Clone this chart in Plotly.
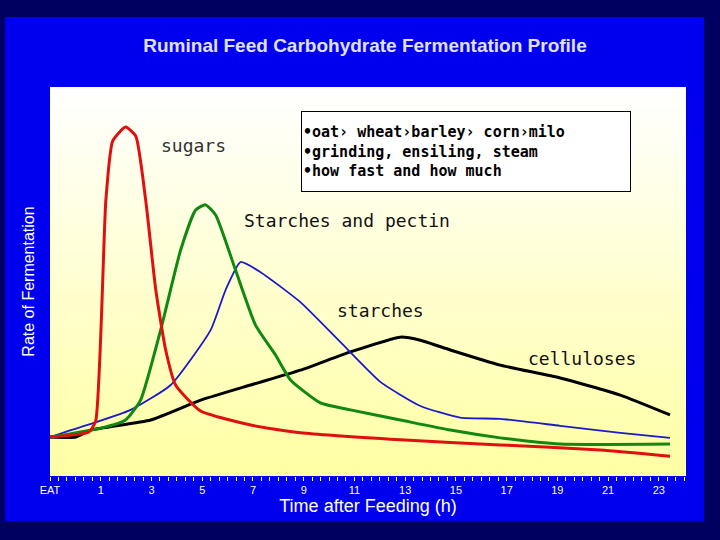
import plotly.graph_objects as go

hours_red = [-1.0, 0.53, 0.80, 1.20, 1.47, 1.98, 2.38, 2.77, 3.17, 3.56, 3.95, 4.94, 6.91, 8.87, 12.81, 16.75, 20.69, 23.44]
rate_red = [10.0, 11.3, 14.1, 70.7, 86.1, 89.7, 87.4, 71.0, 47.8, 32.4, 23.4, 16.7, 13.1, 11.1, 9.3, 8.0, 6.7, 5.1]
hours_green = [-1, 1.0, 1.98, 2.57, 3.36, 4.15, 4.74, 5.13, 5.53, 6.31, 7.10, 7.89, 8.48, 9.66, 10.84, 12.81, 14.78, 16.75, 19.11, 23.44]
rate_green = [10.0, 12.3, 14.4, 19.5, 37.5, 58.1, 68.4, 69.7, 67.1, 53.0, 38.8, 31.1, 24.7, 18.8, 17.0, 14.4, 11.8, 9.8, 8.2, 8.2]
hours_blue = [-1, -0.18, 0.61, 2.18, 3.76, 5.33, 5.92, 6.51, 7.30, 8.87, 10.45, 12.02, 13.6, 15.17, 16.75, 19.11, 21.48, 23.44]
rate_blue = [10.0, 11.8, 13.4, 17.0, 23.4, 37.5, 47.8, 55.0, 52.4, 44.7, 34.4, 24.2, 18.0, 15.0, 14.7, 12.9, 11.1, 9.8]
hours_black = [-1, 0.02, 0.61, 2.97, 4.94, 6.91, 8.87, 10.84, 12.81, 13.6, 14.78, 16.75, 19.11, 21.48, 23.44]
rate_black = [10.0, 10.0, 11.8, 14.4, 19.5, 23.4, 27.2, 31.9, 35.7, 34.9, 32.4, 28.5, 25.2, 20.8, 15.7]
tick_vals = [-1, 1, 3, 5, 7, 9, 11, 13, 15, 17, 19, 21, 23]
tick_text = ["EAT", "1", "3", "5", "7", "9", "11", "13", "15", "17", "19", "21", "23"]

fig = go.Figure()
for xs, ys, c, w in [(hours_black, rate_black, "#000000", 3), (hours_blue, rate_blue, "#1a1acc", 1.8),
                     (hours_green, rate_green, "#118811", 3), (hours_red, rate_red, "#e01010", 3)]:
    fig.add_trace(go.Scatter(x=xs, y=ys, mode="lines", line=dict(color=c, width=w, shape="spline", smoothing=0.5),
                             showlegend=False))

shapes = [dict(type="rect", xref="paper", yref="paper", x0=-45/636, x1=654/636, y0=-45/389, y1=459/389,
               fillcolor="#0000ee", line_width=0, layer="below")]
n = 40
for i in range(n):
    t = i / (n - 1)
    b = int(255 - (255 - 165) * (1 - t))
    shapes.append(dict(type="rect", xref="paper", yref="paper", x0=0, x1=1, y0=i / n, y1=min(1, (i + 1.6) / n),
                       fillcolor=f"rgb(255,255,{b})", line=dict(width=0, color=f"rgb(255,255,{b})"), layer="below"))
fig.update_layout(shapes=shapes)

mono = "DejaVu Sans Mono"
def lab(px, py, text, **kw):
    fig.add_annotation(x=(px - 50) / 636, y=(476 - py) / 389, xref="paper", yref="paper", text=text,
                       showarrow=False, xanchor="center", yanchor="middle", **kw)

lab(193, 145, "sugars", font=dict(family=mono, size=18, color="#333"))
lab(347, 220, "Starches and pectin", font=dict(family=mono, size=18, color="#111"))
lab(380, 310, "starches", font=dict(family=mono, size=18, color="#111"))
lab(582, 358, "celluloses", font=dict(family=mono, size=18, color="#111"))
lab(466, 151, "<b>•oat› wheat›barley› corn›milo<br>•grinding, ensiling, steam<br>•how fast and how much</b>",
    align="left", font=dict(family=mono, size=15, color="#000"),
    bgcolor="white", bordercolor="black", borderwidth=1, width=326, height=77)

fig.update_layout(
    width=720, height=540, margin=dict(l=50, r=34, t=87, b=64),
    paper_bgcolor="#000060", plot_bgcolor="#ffffd0",
    title=dict(text="<b>Ruminal Feed Carbohydrate Fermentation Profile</b>", x=365/720, xanchor="center",
               y=1-45/540, yanchor="middle", font=dict(family="Arial", size=19, color="#e0e0ff")),
    xaxis=dict(range=[-1, 24.07], tickvals=tick_vals, ticktext=tick_text, showgrid=False, zeroline=False,
               ticks="outside", ticklen=4, tickcolor="white", tickfont=dict(family="Arial", size=11, color="white"),
               minor=dict(dtick=1/3, ticks="outside", ticklen=4, tickcolor="white"),
               title=dict(text="Time after Feeding (h)", font=dict(family="Arial", size=18, color="white"), standoff=0)),
    yaxis=dict(range=[0, 100], showticklabels=False, showgrid=False, zeroline=False, ticks="",
               title=dict(text="Rate of Fermentation", font=dict(family="Arial", size=16, color="white"), standoff=10)),
)
fig.write_html("out.html", config={"displayModeBar": False}, post_script="document.body.style.margin='0';")
